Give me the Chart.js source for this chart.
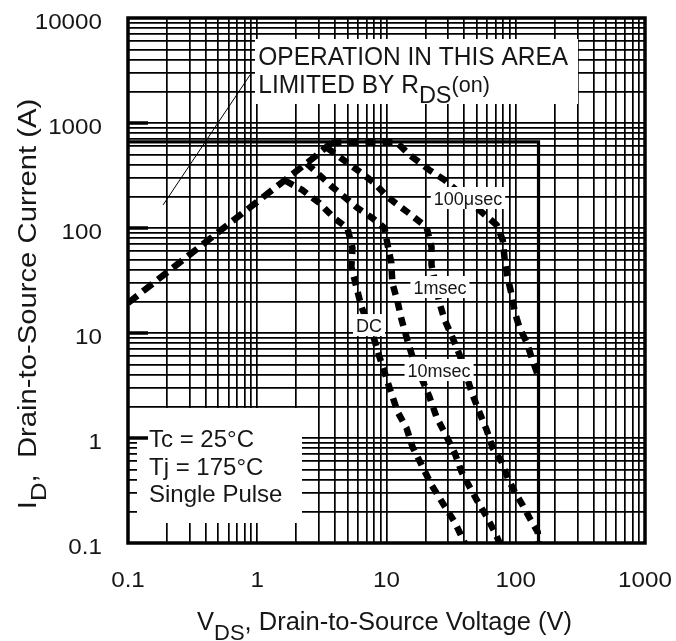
<!DOCTYPE html>
<html>
<head>
<meta charset="utf-8">
<script src="https://cdn.jsdelivr.net/npm/chart.js@4.4.1/dist/chart.umd.min.js"></script>
<style>
  html, body { margin: 0; padding: 0; background: #fff; }
  #caja { width: 676px; height: 641px; }
</style>
</head>
<body>
<div id="caja"><canvas id="grafica" width="676" height="641"></canvas></div>
<script>
// ejes (log-log)
const xMin = 0.1, xMax = 1000;
const yMin = 0.1, yMax = 10000;
const xTickValues = [0.1, 1, 10, 100, 1000];
const xTickLabels = ['0.1', '1', '10', '100', '1000'];
const yTickValues = [0.1, 1, 10, 100, 1000, 10000];
const yTickLabels = ['0.1', '1', '10', '100', '1000', '10000'];

// limite de la zona segura (660 A / 150 V)
const limV = [0.1, 150, 150];
const limI = [660, 660, 0.1];

// linea limitada por RDS(on)
const rdsV = [0.1, 0.79, 2.77, 3.75];
const rdsI = [19.3, 142, 474, 650];

// 100 usec
const us100V = [3.75, 11.9, 15.1, 21.5, 28.2, 55.5, 71.2, 79.3, 82.2, 86.7, 93.1, 98.3, 107, 122, 133, 148];
const us100I = [650, 660, 496, 356, 286, 139, 107, 76.9, 49.5, 33.4, 23.0, 15.8, 11.2, 8.03, 5.78, 3.98];

// 1 msec
const ms1V = [3.47, 4.90, 6.40, 8.07, 10.2, 14.5, 20.4, 22.3, 22.3, 25.7, 28.2, 32.5, 36.8, 46.4, 52.6, 59.6, 66.3, 77.9, 86.7, 98.3, 113, 128, 148, 150];
const ms1I = [579, 425, 334, 268, 197, 142, 102, 65.9, 44.4, 19.3, 13.3, 8.96, 6.17, 2.57, 1.73, 1.19, 0.80, 0.59, 0.416, 0.306, 0.230, 0.173, 0.127, 0.1];

// 10 msec
const ms10V = [2.42, 3.02, 3.81, 4.72, 5.96, 7.79, 9.65, 10.2, 10.9, 11.1, 12.2, 13.1, 14.5, 15.9, 21.5, 24.4, 28.2, 33.7, 38.1, 44.0, 49.9, 59.6, 68.7, 75.2];
const ms10I = [411, 320, 246, 197, 155, 124, 100, 68.9, 46.4, 29.9, 19.7, 13.3, 8.58, 5.9, 2.46, 1.58, 1.12, 0.72, 0.474, 0.341, 0.257, 0.177, 0.127, 0.1];

// DC
const dcV = [1.65, 2.23, 3.02, 3.95, 4.98, 5.45, 5.35, 5.85, 6.40, 8.07, 8.83, 9.65, 10.5, 12.2, 14.3, 15.9, 18.7, 22.3, 27.2, 33.7, 40.3];
const dcI = [282, 230, 173, 124, 100, 64.5, 42.5, 27.4, 17.7, 8.58, 5.9, 4.25, 3.06, 1.77, 1.24, 0.82, 0.553, 0.357, 0.240, 0.158, 0.1];

// flecha de la nota
const ptrV = [0.187, 0.879];
const ptrI = [166, 2866];

// etiquetas de las curvas (centro en coordenadas de datos)
const etiquetas = ['100μsec', '1msec', 'DC', '10msec'];
const etiquetasV = [42.7, 25.9, 7.32, 25.5];
const etiquetasI = [193, 27.4, 11.9, 4.44];

const nota1 = 'OPERATION IN THIS AREA';
const nota2 = ['LIMITED BY R', 'DS', '(on)'];
const condiciones = ['Tc = 25°C', 'Tj = 175°C', 'Single Pulse'];

const FUENTE = '"Liberation Sans", Arial, Helvetica, sans-serif';
const TINTA = '#161616';

function puntos(xs, ys) {
  return xs.map((x, i) => ({ x: x, y: ys[i] }));
}

function ticksLog(min, max) {
  const out = [];
  for (let e = Math.round(Math.log10(min)); e < Math.round(Math.log10(max)); e++) {
    for (let m = 1; m < 10; m++) out.push({ value: m * Math.pow(10, e) });
  }
  out.push({ value: max });
  return out;
}

// dibuja partes de texto seguidas: [texto, tamaño, desplazamiento vertical]
function texto(ctx, partes, x, y, align, sx) {
  ctx.save();
  ctx.fillStyle = TINTA;
  ctx.textBaseline = 'alphabetic';
  ctx.textAlign = 'left';
  let total = 0;
  const anchos = partes.map(p => {
    ctx.font = p[1] + 'px ' + FUENTE;
    const w = ctx.measureText(p[0]).width * sx;
    total += w;
    return w;
  });
  let cx = x;
  if (align === 'center') cx = x - total / 2;
  if (align === 'right') cx = x - total;
  partes.forEach((p, i) => {
    ctx.font = p[1] + 'px ' + FUENTE;
    ctx.save();
    ctx.translate(cx, y + p[2]);
    ctx.scale(sx, 1);
    ctx.fillText(p[0], 0, 0);
    ctx.restore();
    cx += anchos[i];
  });
  ctx.restore();
  return total;
}

const dibujos = {
  id: 'dibujos',
  afterDatasetsDraw(chart) {
    const ctx = chart.ctx;
    const a = chart.chartArea;
    const xs = chart.scales.x, ys = chart.scales.y;

    ctx.save();
    // cajas blancas
    ctx.fillStyle = '#fff';
    ctx.fillRect(255, 39, 323, 65);
    ctx.fillRect(a.left + 9, 408, 165, 115);

    // etiquetas de curvas
    etiquetas.forEach((t, i) => {
      const px = xs.getPixelForValue(etiquetasV[i]);
      const py = ys.getPixelForValue(etiquetasI[i]);
      ctx.font = '18px ' + FUENTE;
      const w = ctx.measureText(t).width;
      ctx.fillStyle = '#fff';
      ctx.fillRect(px - w / 2 - 3, py - 11, w + 6, 22);
      texto(ctx, [[t, 18, 0]], px, py + 6.5, 'center', 1);
    });

    // nota RDS(on)
    const nx = xs.getPixelForValue(1) + 1;
    texto(ctx, [[nota1, 25, 0]], nx, 65, 'left', 0.98);
    texto(ctx, [[nota2[0], 25, 0], [nota2[1], 24, 10], [nota2[2], 22, -1]], nx, 93, 'left', 0.98);

    // condiciones
    condiciones.forEach((c, i) => {
      texto(ctx, [[c, 24, 0]], a.left + 21, 447 + i * 27.5, 'left', 1);
    });

    // marco
    ctx.strokeStyle = '#000';
    ctx.lineWidth = 3.5;
    ctx.strokeRect(a.left, a.top, a.right - a.left, a.bottom - a.top);
    // marcas gruesas de decada a la izquierda
    yTickValues.slice(1, -1).forEach(v => {
      const py = ys.getPixelForValue(v);
      ctx.beginPath();
      ctx.moveTo(a.left, py);
      ctx.lineTo(a.left + 20, py);
      ctx.stroke();
    });

    // etiquetas de los ejes
    yTickValues.forEach((v, i) => {
      texto(ctx, [[yTickLabels[i], 22, 0]], a.left - 26, ys.getPixelForValue(v) + 11, 'right', 1.1);
    });
    xTickValues.forEach((v, i) => {
      texto(ctx, [[xTickLabels[i], 22, 0]], xs.getPixelForValue(v), a.bottom + 44, 'center', 1.1);
    });

    // titulos
    texto(ctx, [['V', 25.5, 0], ['DS', 22, 10], [', Drain-to-Source Voltage (V)', 25.5, 0]],
      (a.left + a.right) / 2 - 2, 630, 'center', 1.0);
    ctx.save();
    ctx.translate(36, 304);
    ctx.rotate(-Math.PI / 2);
    texto(ctx, [['I', 25, 0], ['D', 22, 10], [',  Drain-to-Source Current (A)', 25, 0]], 0, 0, 'center', 1.17);
    ctx.restore();
    ctx.restore();
  }
};

function curva(xs, ys, ancho, guion) {
  return {
    data: puntos(xs, ys),
    borderColor: '#000',
    borderWidth: ancho,
    borderDash: guion,
    borderCapStyle: 'butt',
    pointRadius: 0,
    tension: 0,
    fill: false
  };
}

const ejeBase = {
  type: 'logarithmic',
  grid: { color: '#000', lineWidth: 1.7, drawTicks: false },
  border: { display: false },
  ticks: { display: false }
};

const myChart = new Chart('grafica', {
  type: 'line',
  data: {
    datasets: [
      curva(limV, limI, 3.2, []),
      curva(ptrV, ptrI, 1, []),
      curva(rdsV, rdsI, 6.5, [12, 7]),
      curva(us100V, us100I, 6.5, [10, 7]),
      curva(ms1V, ms1I, 6.5, [9, 7]),
      curva(ms10V, ms10I, 6.5, [9, 7]),
      curva(dcV, dcI, 6.5, [9, 7])
    ]
  },
  options: {
    responsive: false,
    animation: false,
    devicePixelRatio: 1,
    layout: { padding: { top: 18, right: 31, left: 0, bottom: 0 } },
    plugins: { legend: { display: false }, tooltip: { enabled: false } },
    scales: {
      x: Object.assign({}, ejeBase, {
        min: xMin, max: xMax,
        afterBuildTicks: s => { s.ticks = ticksLog(xMin, xMax); },
        afterFit: s => { s.height = 98; }
      }),
      y: Object.assign({}, ejeBase, {
        min: yMin, max: yMax,
        afterBuildTicks: s => { s.ticks = ticksLog(yMin, yMax); },
        afterFit: s => { s.width = 128; }
      })
    }
  },
  plugins: [dibujos]
});
</script>
</body>
</html>
